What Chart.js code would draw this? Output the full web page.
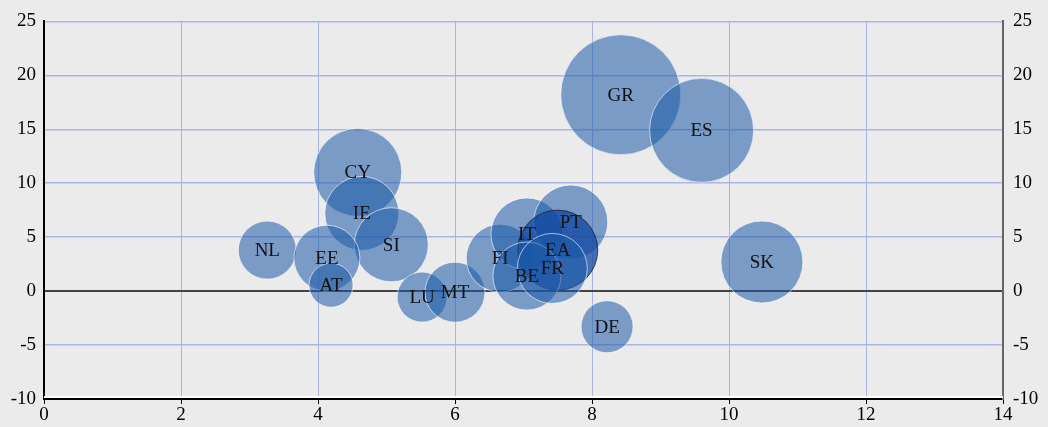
<!DOCTYPE html>
<html>
<head>
<meta charset="utf-8">
<script src="https://cdn.jsdelivr.net/npm/chart.js@4.4.0/dist/chart.umd.min.js"></script>
<style>
  html, body { margin: 0; padding: 0; background: #ebebeb; }
  #wrap { width: 1048px; height: 427px; }
</style>
</head>
<body>
<div id="wrap"><canvas id="bubbleChart"></canvas></div>
<script>
// countries and their values
var countries = ['NL', 'CY', 'IE', 'SI', 'EE', 'AT', 'LU', 'MT', 'FI', 'IT', 'PT', 'EA', 'BE', 'FR', 'GR', 'ES', 'SK', 'DE'];
var xValues   = [3.26, 4.58, 4.64, 5.07, 4.13, 4.19, 5.52, 6.0, 6.66, 7.05, 7.69, 7.5, 7.05, 7.42, 8.42, 9.6, 10.48, 8.22];
var yValues   = [3.8, 11.0, 7.2, 4.3, 3.05, 0.55, -0.55, -0.1, 3.05, 5.3, 6.4, 3.8, 1.4, 2.1, 18.2, 14.9, 2.7, -3.3];
var sizes     = [29, 44, 37, 37, 33, 22, 25, 30, 34, 36, 37, 40, 34, 35, 60, 52, 41, 26];
var xTicks = [0, 2, 4, 6, 8, 10, 12, 14];
var yTicks = [-10, -5, 0, 5, 10, 15, 20, 25];

var points = [];
for (var i = 0; i < countries.length; i++) {
    points.push({ x: xValues[i], y: yValues[i], r: sizes[i], label: countries[i] });
}

var serif = "'Liberation Serif', 'DejaVu Serif', serif";
var gridBlue = '#aab5e6';

// labels inside the bubbles + white line on the bottom axis
var bubbleLabels = {
    id: 'bubbleLabels',
    afterDatasetsDraw: function (chart) {
        var ctx = chart.ctx;
        var meta = chart.getDatasetMeta(0);
        ctx.save();
        ctx.font = '19px ' + serif;
        ctx.fillStyle = '#111';
        ctx.textAlign = 'center';
        ctx.textBaseline = 'middle';
        meta.data.forEach(function (el, i) {
            ctx.fillText(countries[i], el.x, el.y + 1);
        });
        var area = chart.chartArea;
        ctx.strokeStyle = '#ffffff';
        ctx.lineWidth = 2;
        ctx.beginPath();
        ctx.moveTo(area.left, area.bottom - 2);
        ctx.lineTo(area.right, area.bottom - 2);
        ctx.stroke();
        ctx.restore();
    }
};

var bg = countries.map(function (c) {
    return c === 'EA' ? 'rgba(15, 70, 160, 0.75)' : 'rgba(28, 90, 168, 0.55)';
});
var border = countries.map(function (c) {
    return c === 'EA' ? 'rgba(30, 30, 40, 0.8)' : 'rgba(255, 255, 255, 0.6)';
});

var ctx = document.getElementById('bubbleChart').getContext('2d');
var chart = new Chart(ctx, {
    type: 'bubble',
    data: {
        datasets: [{
            data: points,
            backgroundColor: bg,
            borderColor: border,
            borderWidth: 1,
            hoverRadius: 0,
            clip: false
        }]
    },
    options: {
        responsive: true,
        maintainAspectRatio: false,
        animation: false,
        events: [],
        layout: { autoPadding: false, padding: { top: 21, left: 0, right: 0, bottom: 0 } },
        plugins: {
            legend: { display: false },
            tooltip: { enabled: false }
        },
        scales: {
            x: {
                type: 'linear',
                min: 0,
                max: 14,
                afterBuildTicks: function (axis) {
                    axis.ticks = xTicks.map(function (v) { return { value: v }; });
                },
                afterFit: function (axis) { axis.height = 28; },
                grid: {
                    color: gridBlue,
                    tickColor: '#000',
                    tickLength: 5,
                    lineWidth: 1
                },
                border: { color: '#000', width: 2 },
                ticks: { color: '#000', padding: 0, font: { family: serif, size: 19 } }
            },
            y: {
                type: 'linear',
                position: 'left',
                min: -10,
                max: 25,
                afterBuildTicks: function (axis) {
                    axis.ticks = yTicks.map(function (v) { return { value: v }; });
                },
                afterFit: function (axis) { axis.width = 44; },
                grid: {
                    color: function (c) { return c.tick && c.tick.value === 0 ? '#444' : gridBlue; },
                    lineWidth: function (c) { return c.tick && c.tick.value === 0 ? 2 : 1.5; },
                    tickLength: 0
                },
                border: { color: '#000', width: 2 },
                ticks: { color: '#000', padding: 8, font: { family: serif, size: 19 } }
            },
            y2: {
                type: 'linear',
                position: 'right',
                min: -10,
                max: 25,
                afterBuildTicks: function (axis) {
                    axis.ticks = yTicks.map(function (v) { return { value: v }; });
                },
                afterFit: function (axis) { axis.width = 45; },
                grid: { drawOnChartArea: false, tickLength: 0 },
                border: { color: '#666', width: 2 },
                ticks: { color: '#000', padding: 10, font: { family: serif, size: 19 } }
            }
        }
    },
    plugins: [bubbleLabels]
});
</script>
</body>
</html>
